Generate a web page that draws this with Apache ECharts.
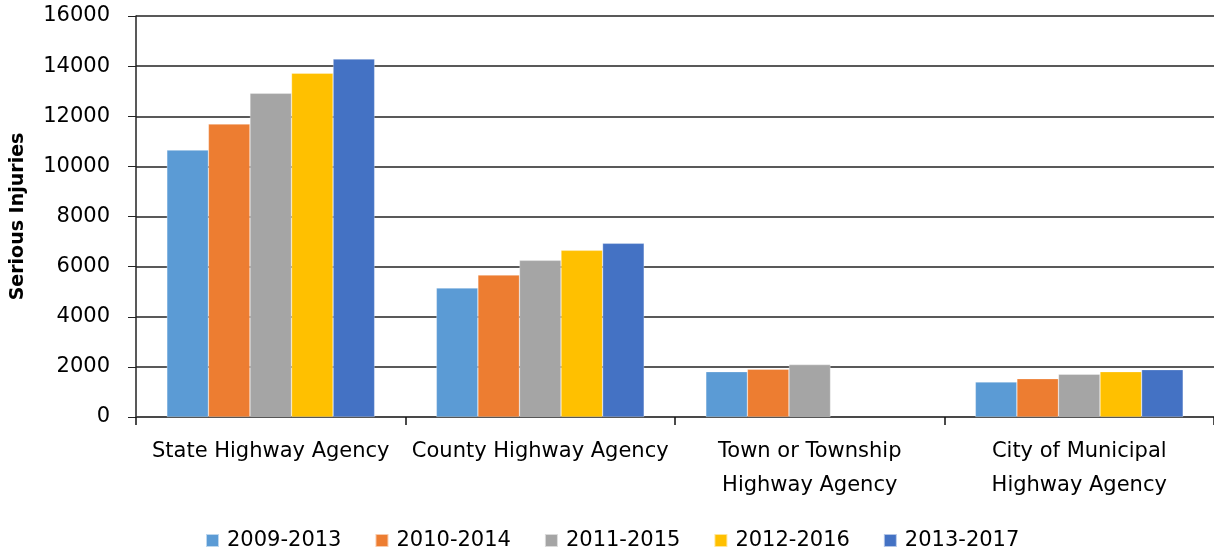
<!DOCTYPE html>
<html>
<head>
<meta charset="utf-8">
<script src="https://cdn.jsdelivr.net/npm/echarts@6/dist/echarts.min.js"></script>
<style>
  html, body { margin: 0; padding: 0; background: #fff; overflow: hidden; }
  #chart { width: 1214px; height: 557px; }
</style>
</head>
<body>
<div id="chart"></div>
<script>
const categories = [
  "State Highway Agency",
  "County Highway Agency",
  "Town or Township\nHighway Agency",
  "City of Municipal\nHighway Agency"
];
const seriesNames = ["2009-2013", "2010-2014", "2011-2015", "2012-2016", "2013-2017"];
const v2009_2013 = [10650, 5150, 1810, 1400];
const v2010_2014 = [11690, 5665, 1905, 1530];
const v2011_2015 = [12915, 6250, 2090, 1705];
const v2012_2016 = [13715, 6650, null, 1810];
const v2013_2017 = [14285, 6930, null, 1890];
const yTicks = { min: 0, max: 16000, interval: 2000 };

const colors = ["#5B9BD5", "#ED7D31", "#A5A5A5", "#FFC000", "#4472C4"];
const allValues = [v2009_2013, v2010_2014, v2011_2015, v2012_2016, v2013_2017];
const fontFamily = "'DejaVu Sans', sans-serif";

const chart = echarts.init(document.getElementById("chart"));
chart.setOption({
  animation: false,
  color: colors,
  textStyle: { fontFamily: fontFamily },
  // plot area runs a little past the right edge, as in the source picture
  grid: { left: 136, right: -6, top: 16, bottom: 140 },
  legend: {
    bottom: 1,
    left: 200,
    itemWidth: 13,
    itemHeight: 13,
    itemGap: 33,
    icon: "rect",
    textStyle: { fontSize: 21, color: "#000", fontFamily: fontFamily, padding: [0, 0, 0, 3] },
    data: seriesNames
  },
  xAxis: {
    type: "category",
    data: categories,
    axisLine: { lineStyle: { color: "#444", width: 1.5 } },
    axisTick: { show: true, length: 8, lineStyle: { color: "#111", width: 1.5 } },
    axisLabel: {
      fontSize: 21,
      color: "#000",
      margin: 18,
      lineHeight: 34,
      interval: 0
    }
  },
  yAxis: {
    type: "value",
    min: yTicks.min,
    max: yTicks.max,
    interval: yTicks.interval,
    name: "Serious Injuries",
    nameLocation: "middle",
    nameGap: 108,
    nameTextStyle: { fontSize: 19, fontWeight: "bold", color: "#000", fontFamily: fontFamily },
    axisLine: { show: true, lineStyle: { color: "#222", width: 1.5 } },
    axisTick: { show: true, length: 8, lineStyle: { color: "#222" } },
    axisLabel: { fontSize: 21, color: "#000", margin: 26, formatter: (v) => String(v) },
    splitLine: { lineStyle: { color: "#222", width: 1.5 } }
  },
  series: seriesNames.map((name, i) => ({
    name: name,
    type: "bar",
    data: allValues[i],
    barGap: "0%",
    barCategoryGap: "22.9%",
    itemStyle: { borderColor: "rgba(255,255,255,0.6)", borderWidth: 0.5 }
  }))
});
</script>
</body>
</html>
